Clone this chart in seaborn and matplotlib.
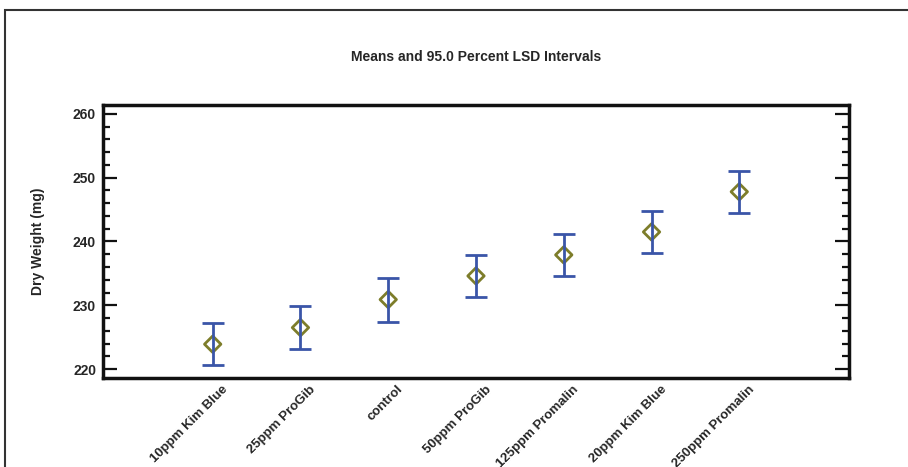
import matplotlib
matplotlib.use('Agg')
import matplotlib.pyplot as plt
import matplotlib.transforms as mtransforms
import seaborn as sns
import pandas as pd
from matplotlib.patches import Rectangle
from matplotlib.ticker import MultipleLocator

# dados
tratamentos = ['10ppm Kim Blue', '25ppm ProGib', 'control', '50ppm ProGib',
               '125ppm Promalin', '20ppm Kim Blue', '250ppm Promalin']
medias = [223.9, 226.5, 230.9, 234.6, 237.9, 241.5, 247.8]
meia_lsd = [3.34, 3.32, 3.45, 3.25, 3.29, 3.29, 3.27]

df = pd.DataFrame({'trat': tratamentos, 'media': medias, 'lsd': meia_lsd})

sns.set_style('white')
plt.rcParams['font.family'] = ['Liberation Sans', 'DejaVu Sans']

fig = plt.figure(figsize=(9.08, 4.67), dpi=100)
fig.patch.set_color('white')
ax = fig.add_axes([103/908, 1-378/467, 746/908, 273/467])

# moldura externa
fig.patches.append(Rectangle((5/908, -0.1), 1.2, 1-10/467+0.1, transform=fig.transFigure,
                             fill=False, edgecolor='#333333', linewidth=1.5))

sns.scatterplot(x=range(len(df)), y=df['media'], marker='D', s=70,
                facecolor='none', edgecolor='#7d7d2a', linewidth=2, zorder=2, ax=ax)
ax.errorbar(range(len(df)), df['media'], yerr=df['lsd'], fmt='none',
            ecolor='#3a55a8', elinewidth=2, capsize=8, capthick=2, zorder=3)

ax.set_xlim(-1.25, 7.25)
ax.set_ylim(218.6, 261.4)
ax.yaxis.set_major_locator(MultipleLocator(10))
ax.yaxis.set_minor_locator(MultipleLocator(2))
ax.tick_params(axis='y', which='major', direction='in', length=10, width=1.6,
               left=True, right=True, labelsize=10, pad=5, color='#111111')
ax.tick_params(axis='y', which='minor', direction='in', length=5, width=1.6,
               left=True, right=True, color='#111111')
ax.tick_params(axis='x', bottom=False, pad=4)
for t in ax.get_yticklabels():
    t.set_fontweight('bold')
for s in ax.spines.values():
    s.set_linewidth(2.5)
    s.set_color('#111111')

ax.set_xticks(range(len(df)))
ax.set_xticklabels(df['trat'], rotation=45, ha='right', rotation_mode='anchor',
                   fontsize=9.5, fontweight='bold')
# empurra os rotulos um pouco pra direita e pra cima
desloc = mtransforms.ScaledTranslation(0.09, 0.05, fig.dpi_scale_trans)
for t in ax.get_xticklabels():
    t.set_transform(t.get_transform() + desloc)

ax.set_xlabel('')
ax.set_ylabel('Dry Weight (mg)', fontsize=10, fontweight='bold', labelpad=20)
fig.text(476/908, 1-57/467, 'Means and 95.0 Percent LSD Intervals', ha='center',
         va='center', fontsize=10, fontweight='bold')

fig.savefig('out.png', dpi=100)
